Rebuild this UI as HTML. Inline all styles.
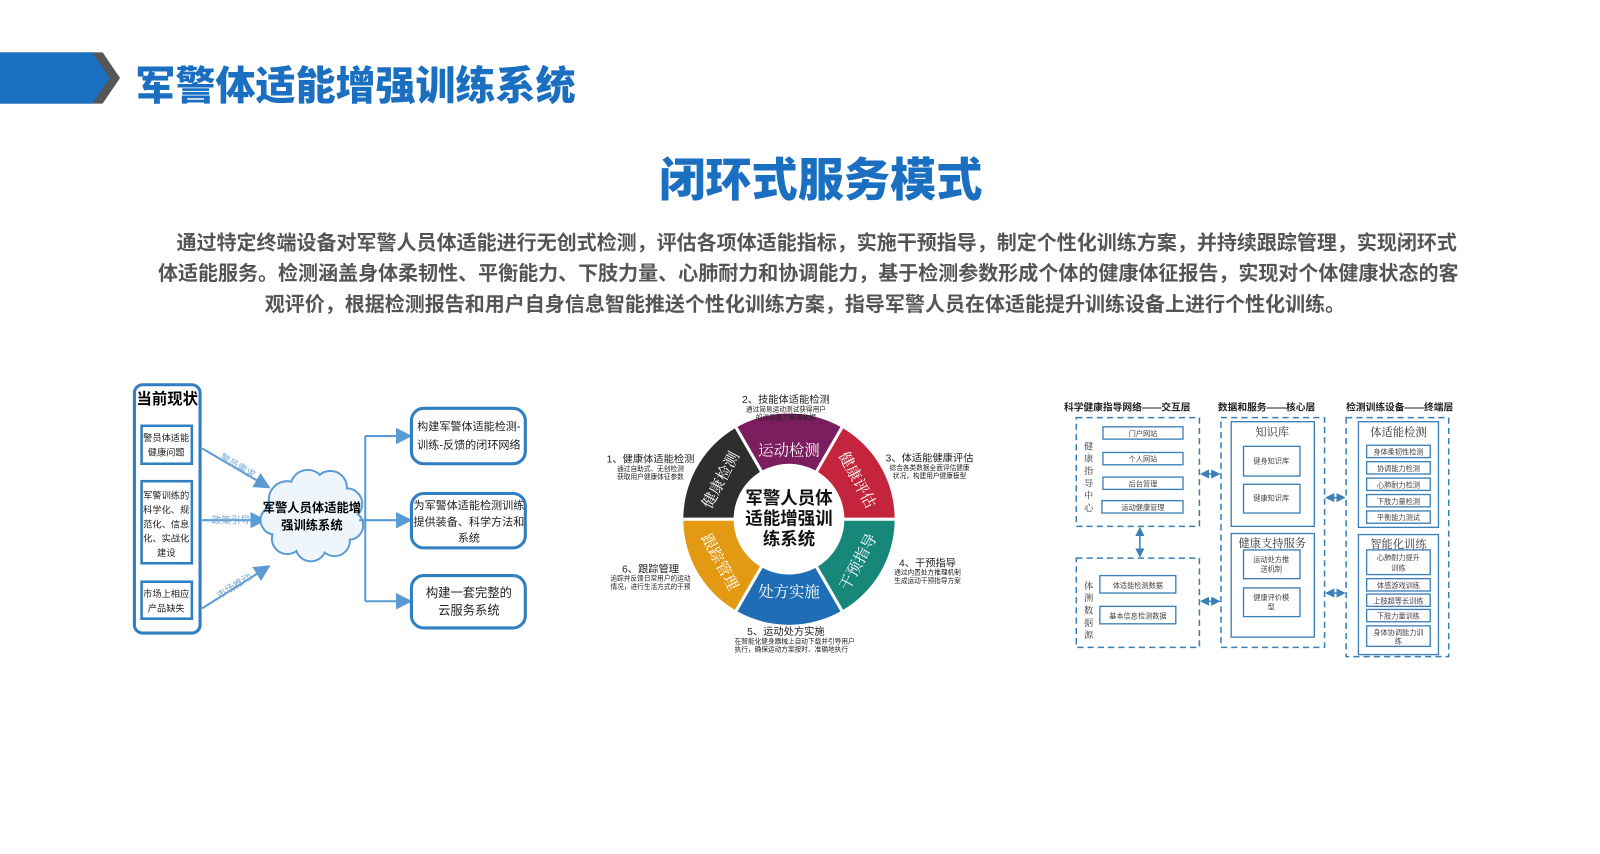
<!DOCTYPE html>
<html><head><meta charset="utf-8">
<style>
*{margin:0;padding:0;box-sizing:border-box}
body{width:1600px;height:832px;background:#fff;position:relative;overflow:hidden;font-family:"Liberation Sans","Noto Sans CJK SC",sans-serif}
#w{position:absolute;left:0;top:0;width:1600px;height:832px;transform:scale(1.026);transform-origin:0 0}
.abs{position:absolute}
#t1{left:132px;top:53px;font-size:39px;font-weight:900;color:#1a6fc0;white-space:nowrap}
#t2{left:0;width:1600px;top:139px;text-align:center;font-size:45px;font-weight:900;color:#1a6fc0;white-space:nowrap}
.p{font-size:19.5px;font-weight:700;color:#555;white-space:nowrap;line-height:24px}
.seg{position:absolute;color:#fff;font-size:15px;white-space:nowrap;transform-origin:center center;font-family:"Noto Serif CJK SC","Liberation Serif",serif}
.lb{position:absolute;text-align:center;white-space:nowrap;color:#222}
.lb b{font-size:10px;font-weight:400;display:block}
.lb i{font-style:normal;font-size:6.5px;display:block;line-height:8px}
#ring{position:absolute;left:-4px;top:-4px;width:1600px;height:832px}
</style></head><body><div id="w">
<svg class="abs" style="left:0;top:0" width="1600" height="832">
<polygon points="0,51 100,51 117,76 100,101 0,101" fill="#555"/>
<polygon points="0,51 90,51 107,76 90,101 0,101" fill="#1a6fc0"/>
</svg>
<div id="t1" class="abs">军警体适能增强训练系统</div>
<div id="t2" class="abs">闭环式服务模式</div>
<div class="abs p" style="left:172px;top:225px">通过特定终端设备对军警人员体适能进行无创式检测，评估各项体适能指标，实施干预指导，制定个性化训练方案，并持续跟踪管理，实现闭环式</div>
<div class="abs p" style="left:154px;top:255px">体适能服务。检测涵盖身体柔韧性、平衡能力、下肢力量、心肺耐力和协调能力，基于检测参数形成个体的健康体征报告，实现对个体健康状态的客</div>
<div class="abs p" style="left:258px;top:285px">观评价，根据检测报告和用户自身信息智能推送个性化训练方案，指导军警人员在体适能提升训练设备上进行个性化训练。</div>

<svg class="abs" style="left:0;top:-3px" width="1600" height="832" font-family="Liberation Sans, Noto Sans CJK SC, sans-serif">
<defs>
<marker id="ar" markerWidth="8" markerHeight="8" refX="7" refY="4" orient="auto"><path d="M0,0 L8,4 L0,8 z" fill="#5b9bd5"/></marker>
<marker id="ar2" markerWidth="6" markerHeight="6" refX="5" refY="3" orient="auto"><path d="M0,0 L6,3 L0,6 z" fill="#3a7fb8"/></marker>
<marker id="ar2s" markerWidth="6" markerHeight="6" refX="1" refY="3" orient="auto"><path d="M6,0 L0,3 L6,6 z" fill="#3a7fb8"/></marker>
</defs>
<rect x="131" y="378" width="64" height="242" rx="8" fill="none" stroke="#2f7fc1" stroke-width="3"/>
<text x="163" y="397" font-size="15" font-weight="700" text-anchor="middle">当前现状</text>
<g fill="none" stroke="#2f7fc1" stroke-width="2.5">
<rect x="138" y="418" width="49" height="37"/>
<rect x="138" y="472" width="49" height="80"/>
<rect x="138" y="570" width="49" height="36"/>
</g>
<g font-size="9" text-anchor="middle" fill="#222">
<text x="162" y="433">警员体适能</text><text x="162" y="447">健康问题</text>
<text x="162" y="489">军警训练的</text><text x="162" y="503">科学化、规</text><text x="162" y="517">范化、信息</text><text x="162" y="531">化、实战化</text><text x="162" y="545">建设</text>
<text x="162" y="585">市场上相应</text><text x="162" y="599">产品缺失</text>
</g>
<g stroke="#5b9bd5" stroke-width="2" fill="none" marker-end="url(#ar)">
<line x1="197" y1="440" x2="262" y2="478"/>
<line x1="197" y1="510" x2="258" y2="510"/>
<line x1="197" y1="596" x2="262" y2="555"/>
</g>
<g font-size="9.5" fill="#7aaad6" text-anchor="middle">
<text x="230" y="460" transform="rotate(30 230 460)">警员需求</text>
<text x="225" y="513">政策引导</text>
<text x="230" y="577" transform="rotate(-32 230 577)">市场推动</text>
</g>
<g stroke="#5b9bd5" stroke-width="2" fill="#eef5fb">
<circle cx="280" cy="490" r="18"/><circle cx="300" cy="478" r="17"/><circle cx="322" cy="478" r="16"/><circle cx="338" cy="494" r="15"/>
<circle cx="340" cy="515" r="14"/><circle cx="326" cy="530" r="15"/><circle cx="303" cy="535" r="15"/><circle cx="280" cy="528" r="15"/><circle cx="268" cy="510" r="14"/>
</g>
<g fill="#eef5fb">
<circle cx="280" cy="490" r="17"/><circle cx="300" cy="478" r="16"/><circle cx="322" cy="478" r="15"/><circle cx="338" cy="494" r="14"/>
<circle cx="340" cy="515" r="13"/><circle cx="326" cy="530" r="14"/><circle cx="303" cy="535" r="14"/><circle cx="280" cy="528" r="14"/><circle cx="268" cy="510" r="13"/>
<ellipse cx="304" cy="507" rx="38" ry="28"/>
</g>
<text x="304" y="502" font-size="12" font-weight="700" text-anchor="middle">军警人员体适能增</text>
<text x="304" y="519" font-size="12" font-weight="700" text-anchor="middle">强训练系统</text>
<g stroke="#5b9bd5" stroke-width="2" fill="none">
<line x1="350" y1="510" x2="356" y2="510"/>
<line x1="356" y1="428" x2="356" y2="589"/>
<line x1="356" y1="428" x2="400" y2="428" marker-end="url(#ar)"/>
<line x1="356" y1="510" x2="400" y2="510" marker-end="url(#ar)"/>
<line x1="356" y1="589" x2="400" y2="589" marker-end="url(#ar)"/>
</g>
<g fill="none" stroke="#2f7fc1" stroke-width="3">
<rect x="401" y="401" width="111" height="54" rx="12"/>
<rect x="401" y="484" width="111" height="53" rx="12"/>
<rect x="401" y="564" width="111" height="51" rx="12"/>
</g>
<g font-size="10.8" text-anchor="middle" fill="#222">
<text x="457" y="422">构建军警体适能检测-</text><text x="457" y="440">训练-反馈的闭环网络</text>
<text x="457" y="499">为军警体适能检测训练</text><text x="457" y="515">提供装备、科学方法和</text><text x="457" y="531">系统</text>
</g>
<g font-size="12" text-anchor="middle" fill="#222">
<text x="457" y="585">构建一套完整的</text><text x="457" y="602">云服务系统</text>
</g>
</svg>

<svg class="abs" style="left:-6px;top:-2px" width="1600" height="832" font-family="Liberation Sans, Noto Sans CJK SC, sans-serif">
<defs>
<marker id="br" markerWidth="6" markerHeight="6" refX="5" refY="3" orient="auto"><path d="M0,0 L6,3 L0,6 z" fill="#3a7fb8"/></marker>
<marker id="brs" markerWidth="6" markerHeight="6" refX="1" refY="3" orient="auto"><path d="M6,0 L0,3 L6,6 z" fill="#3a7fb8"/></marker>
</defs>
<g font-size="9.5" font-weight="700" fill="#222">
<text x="1043" y="402">科学健康指导网络——交互层</text>
<text x="1193" y="402">数据和服务——核心层</text>
<text x="1318" y="402">检测训练设备——终端层</text>
</g>
<g fill="none" stroke="#3a7fb8" stroke-width="1.5" stroke-dasharray="6,4">
<rect x="1055" y="409" width="120" height="106"/>
<rect x="1055" y="546" width="120" height="87"/>
<rect x="1196" y="409" width="101" height="224"/>
<rect x="1318" y="409" width="100" height="233"/>
</g>
<g fill="#fff" stroke="#3a7fb8" stroke-width="1.3">
<rect x="1081" y="418" width="78" height="12"/><rect x="1081" y="443" width="78" height="12"/><rect x="1081" y="467" width="78" height="12"/><rect x="1080" y="490" width="79" height="12"/>
<rect x="1078" y="563" width="74" height="17"/><rect x="1078" y="593" width="74" height="17"/>
<rect x="1206" y="413" width="81" height="102"/><rect x="1218" y="437" width="55" height="29"/><rect x="1218" y="474" width="55" height="28"/>
<rect x="1206" y="522" width="81" height="101"/><rect x="1218" y="538" width="55" height="28"/><rect x="1218" y="575" width="55" height="28"/>
<rect x="1330" y="413" width="78" height="103"/>
<rect x="1338" y="436" width="62" height="12"/><rect x="1338" y="452" width="62" height="12"/><rect x="1338" y="468" width="62" height="12"/><rect x="1338" y="484" width="62" height="12"/><rect x="1338" y="500" width="62" height="12"/>
<rect x="1330" y="523" width="78" height="117"/>
<rect x="1338" y="538" width="62" height="24"/><rect x="1338" y="566" width="62" height="12"/><rect x="1338" y="581" width="62" height="12"/><rect x="1338" y="596" width="62" height="12"/><rect x="1338" y="612" width="62" height="20"/>
</g>
<g font-size="7" fill="#444" text-anchor="middle">
<text x="1120" y="427">门户网站</text><text x="1120" y="452">个人网站</text><text x="1120" y="476">后台管理</text><text x="1120" y="499">运动健康管理</text>
<text x="1115" y="575">体适能检测数据</text><text x="1115" y="605">基本信息检测数据</text>
<text x="1245" y="454">健身知识库</text><text x="1245" y="490">健康知识库</text>
<text x="1245" y="550">运动处方推</text><text x="1245" y="559">送机制</text>
<text x="1245" y="587">健康评价模</text><text x="1245" y="596">型</text>
<text x="1369" y="445">身体柔韧性检测</text><text x="1369" y="461">协调能力检测</text><text x="1369" y="477">心肺耐力检测</text><text x="1369" y="493">下肢力量检测</text><text x="1369" y="509">平衡能力测试</text>
<text x="1369" y="548">心肺耐力提升</text><text x="1369" y="558">训练</text>
<text x="1369" y="575">体感游戏训练</text><text x="1369" y="590">上肢超等长训练</text><text x="1369" y="605">下肢力量训练</text>
<text x="1369" y="621">身体协调能力训</text><text x="1369" y="629">练</text>
</g>
<g font-size="11" fill="#333" text-anchor="middle" font-family="Noto Serif CJK SC, serif">
<text x="1246" y="427">知识库</text><text x="1246" y="535">健康支持服务</text>
<text x="1369" y="427">体适能检测</text><text x="1369" y="536">智能化训练</text>
</g>
<g font-size="9" fill="#333" text-anchor="middle" font-family="Noto Serif CJK SC, serif">
<text x="1067" y="440">健</text><text x="1067" y="452">康</text><text x="1067" y="464">指</text><text x="1067" y="476">导</text><text x="1067" y="488">中</text><text x="1067" y="500">心</text>
<text x="1067" y="576">体</text><text x="1067" y="588">测</text><text x="1067" y="600">数</text><text x="1067" y="612">据</text><text x="1067" y="624">源</text>
</g>
<g stroke="#3a7fb8" stroke-width="1.5" marker-end="url(#br)" marker-start="url(#brs)">
<line x1="1117" y1="517" x2="1117" y2="544"/>
<line x1="1177" y1="464" x2="1194" y2="464"/>
<line x1="1177" y1="588" x2="1194" y2="588"/>
<line x1="1299" y1="487" x2="1316" y2="487"/>
<line x1="1299" y1="580" x2="1316" y2="580"/>
</g>
</svg>

<div id="ring">
<div class="abs" style="left:670px;top:407px;width:206px;height:206px;border-radius:50%;background:conic-gradient(from -30deg,#7b1d5f 0 60deg,#c4253c 60deg 120deg,#17877a 120deg 180deg,#1f6db5 180deg 240deg,#e39a12 240deg 300deg,#2e2e2e 300deg 360deg)"></div>
<svg class="abs" style="left:670px;top:407px" width="206" height="206">
<g stroke="#fff" stroke-width="3">
<line x1="103" y1="103" x2="51.5" y2="13.8"/><line x1="103" y1="103" x2="154.5" y2="13.8"/>
<line x1="103" y1="103" x2="206" y2="103"/><line x1="103" y1="103" x2="0" y2="103"/>
<line x1="103" y1="103" x2="51.5" y2="192.2"/><line x1="103" y1="103" x2="154.5" y2="192.2"/>
</g>
<circle cx="103" cy="103" r="54" fill="#fff"/>
</svg>
<div class="abs" style="left:723px;top:480px;width:100px;text-align:center;font-size:17px;font-weight:700;line-height:20px;color:#111">军警人员体<br>适能增强训<br>练系统</div>
<div class="seg" style="left:743px;top:432px">运动检测</div>
<div class="seg" style="left:810px;top:461px;transform:rotate(62deg)">健康评估</div>
<div class="seg" style="left:810px;top:541px;transform:rotate(-62deg)">干预指导</div>
<div class="seg" style="left:743px;top:570px">处方实施</div>
<div class="seg" style="left:676px;top:541px;transform:rotate(62deg)">跟踪管理</div>
<div class="seg" style="left:676px;top:461px;transform:rotate(-62deg)">健康检测</div>
<div class="lb" style="left:720px;top:385px;width:100px"><b>2、技能体适能检测</b><i>通过简易运动测试获得用户</i><i>的运动能力客观数据</i></div>
<div class="lb" style="left:588px;top:443px;width:100px"><b>1、健康体适能检测</b><i>通过自助式、无创检测</i><i>获取用户健康体征参数</i></div>
<div class="lb" style="left:860px;top:442px;width:100px"><b>3、体适能健康评估</b><i>综合各类数据全面评估健康</i><i>状况，构建用户健康模型</i></div>
<div class="lb" style="left:858px;top:544px;width:100px"><b>4、干预指导</b><i>通过内置处方推理机制</i><i>生成运动干预指导方案</i></div>
<div class="lb" style="left:588px;top:550px;width:100px"><b>6、跟踪管理</b><i>追踪并反馈日常用户的运动</i><i>情况，进行生活方式的干预</i></div>
<div class="lb" style="left:720px;top:611px;width:100px"><b>5、运动处方实施</b><i>在智能化健身器械上自动下载并引导用户</i><i>执行，确保运动方案按时、准确地执行</i></div>
</div>
</div></body></html>
